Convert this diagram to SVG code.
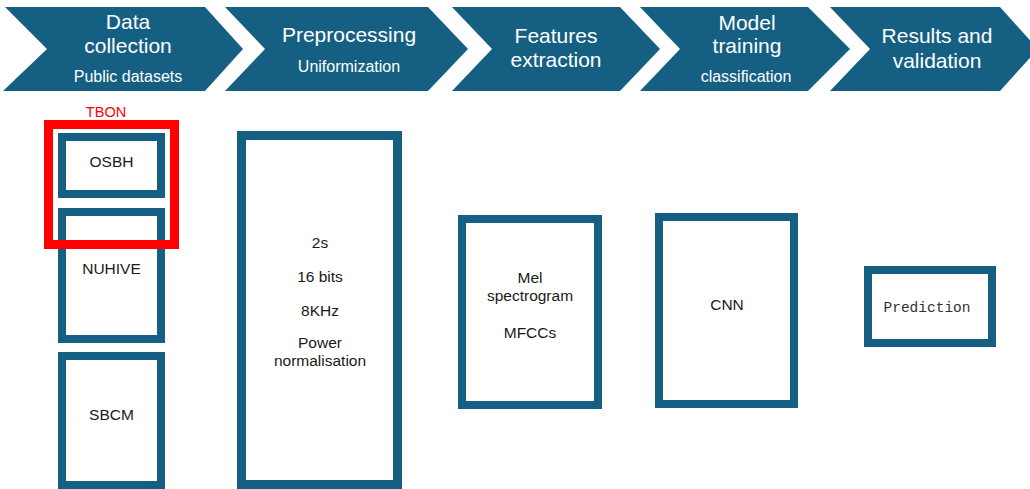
<svg xmlns="http://www.w3.org/2000/svg" width="1030" height="489" viewBox="0 0 1030 489">
<style>
.chev{fill:#156082}
.t{font-family:"Liberation Sans",Arial,sans-serif;fill:#ffffff;text-anchor:middle}
.big{font-size:21px}
.sm{font-size:16px}
.box{fill:#ffffff;stroke:#156082;stroke-width:8}
.bt{font-family:"Liberation Sans",Arial,sans-serif;font-size:15.5px;fill:#1a1a1a;text-anchor:middle}
</style>
<rect width="1030" height="489" fill="#ffffff"/>
<g id="step1">
<polygon class="chev" points="5,7 205,7 243,49 205,91 3,91 47,49"/>
<text class="t big" x="128" y="29">Data</text>
<text class="t big" x="128" y="53">collection</text>
<text class="t sm" x="128" y="82">Public datasets</text>
</g>
<g id="step2">
<polygon class="chev" points="225,7 428,7 468,49 428,91 225,91 265,49"/>
<text class="t big" x="349" y="42">Preprocessing</text>
<text class="t sm" x="349" y="72">Uniformization</text>
</g>
<g id="step3">
<polygon class="chev" points="452,7 620,7 660,49 620,91 452,91 492,49"/>
<text class="t big" x="556" y="43">Features</text>
<text class="t big" x="556" y="67">extraction</text>
</g>
<g id="step4">
<polygon class="chev" points="640,7 808,7 850,49 808,91 640,91 680,49"/>
<text class="t big" x="747" y="30">Model</text>
<text class="t big" x="747" y="53">training</text>
<text class="t sm" x="746" y="82">classification</text>
</g>
<g id="step5">
<polygon class="chev" points="830,7 1000,7 1038,49 1000,91 830,91 870,49"/>
<text class="t big" x="937" y="43">Results and</text>
<text class="t big" x="937" y="68">validation</text>
</g>
<g id="osbh">
<rect class="box" x="62" y="137" width="99" height="57"/>
<text class="bt" x="111.5" y="167">OSBH</text>
</g>
<g id="nuhive">
<rect class="box" x="62" y="212" width="99" height="127"/>
<text class="bt" x="111.5" y="274">NUHIVE</text>
</g>
<g id="sbcm">
<rect class="box" x="62" y="356" width="99" height="129"/>
<text class="bt" x="111.5" y="420">SBCM</text>
</g>
<g id="tbon">
<rect x="48.5" y="124.5" width="126" height="120" fill="none" stroke="#ff0000" stroke-width="9"/>
<text x="106" y="117" font-family="Liberation Sans,Arial,sans-serif" font-size="14.5" fill="#ff0000" text-anchor="middle">TBON</text>
</g>
<g id="preprocessing">
<rect x="241.5" y="135.5" width="156" height="349" fill="#ffffff" stroke="#156082" stroke-width="9"/>
<text class="bt" x="320" y="248">2s</text>
<text class="bt" x="320" y="282">16 bits</text>
<text class="bt" x="320" y="316">8KHz</text>
<text class="bt" x="320" y="348">Power</text>
<text class="bt" x="320" y="366">normalisation</text>
</g>
<g id="features">
<rect class="box" x="462" y="219" width="136" height="186"/>
<text class="bt" x="530" y="283">Mel</text>
<text class="bt" x="530" y="301">spectrogram</text>
<text class="bt" x="530" y="338">MFCCs</text>
</g>
<g id="cnn">
<rect class="box" x="659" y="217" width="135" height="187"/>
<text class="bt" x="727" y="310">CNN</text>
</g>
<g id="prediction">
<rect class="box" x="868" y="270" width="124" height="73"/>
<text x="927" y="312" font-family="Liberation Mono,Courier New,monospace" font-size="14.5" fill="#333333" text-anchor="middle">Prediction</text>
</g>
<g id="connectors"></g>
</svg>
